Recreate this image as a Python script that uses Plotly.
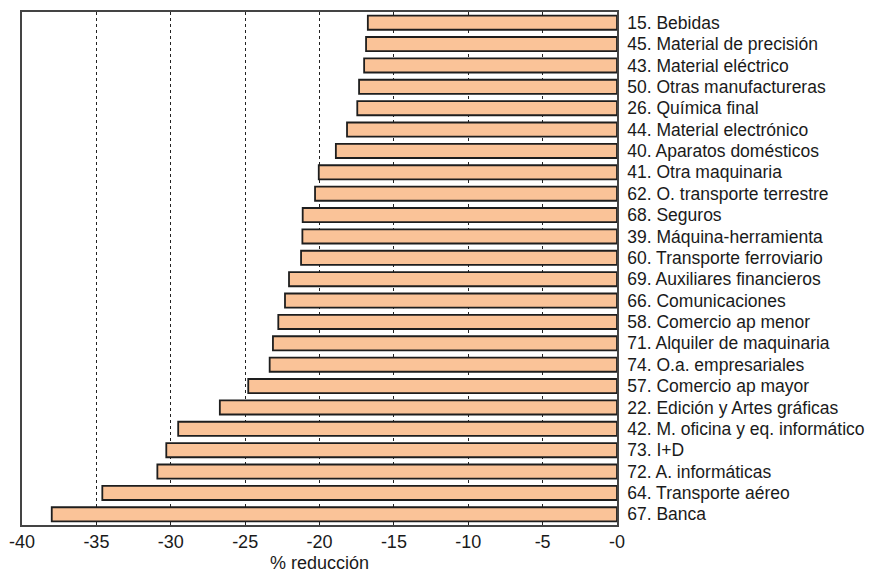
import plotly.graph_objects as go

categories = [
    "15. Bebidas", "45. Material de precisión", "43. Material eléctrico",
    "50. Otras manufactureras", "26. Química final", "44. Material electrónico",
    "40. Aparatos domésticos", "41. Otra maquinaria", "62. O. transporte terrestre",
    "68. Seguros", "39. Máquina-herramienta", "60. Transporte ferroviario",
    "69. Auxiliares financieros", "66. Comunicaciones", "58. Comercio ap menor",
    "71. Alquiler de maquinaria", "74. O.a. empresariales", "57. Comercio ap mayor",
    "22. Edición y Artes gráficas", "42. M. oficina y eq. informático", "73. I+D",
    "72. A. informáticas", "64. Transporte aéreo", "67. Banca",
]
values = [
    -16.75, -16.87, -17.0, -17.34, -17.46, -18.15, -18.9, -20.05, -20.3,
    -21.13, -21.15, -21.24, -22.05, -22.32, -22.77, -23.13, -23.35, -24.79,
    -26.7, -29.5, -30.3, -30.9, -34.6, -38.0,
]
tick_vals = [-40, -35, -30, -25, -20, -15, -10, -5, 0]
tick_text = ["-40", "-35", "-30", "-25", "-20", "-15", "-10", "-5", "-0"]
x_title = "% reducción"

fig = go.Figure(go.Bar(
    x=values, y=categories, orientation="h",
    marker=dict(color="#FAC398", line=dict(color="#1e1e1e", width=1.8)),
    width=0.66,
))

font = "Liberation Sans, Arial, Helvetica, sans-serif"
# page body has an 8px default margin; figure is sized to fit the window
fig.update_layout(
    width=870, height=565,
    margin=dict(l=14, r=261, t=4, b=48),
    paper_bgcolor="white", plot_bgcolor="white",
    showlegend=False,
    font=dict(family=font, size=18, color="#1a1a1a"),
)
fig.update_xaxes(
    range=[-40, 0], tickvals=tick_vals, ticktext=tick_text,
    showgrid=True, gridcolor="#222222", griddash="dot", gridwidth=1,
    showline=True, linecolor="#444444", linewidth=1.5, mirror=True,
    ticks="", zeroline=False, automargin=False,
    title=dict(text=x_title, standoff=5, font=dict(size=18)),
    tickfont=dict(size=18),
)
fig.update_yaxes(
    categoryorder="array", categoryarray=categories, autorange="reversed",
    side="right", showgrid=False, automargin=False,
    showline=True, linecolor="#444444", linewidth=1.5, mirror=True,
    ticks="outside", ticklen=5, tickcolor="rgba(0,0,0,0)",
    tickfont=dict(size=17.5),
)

fig.write_html("out.html")
